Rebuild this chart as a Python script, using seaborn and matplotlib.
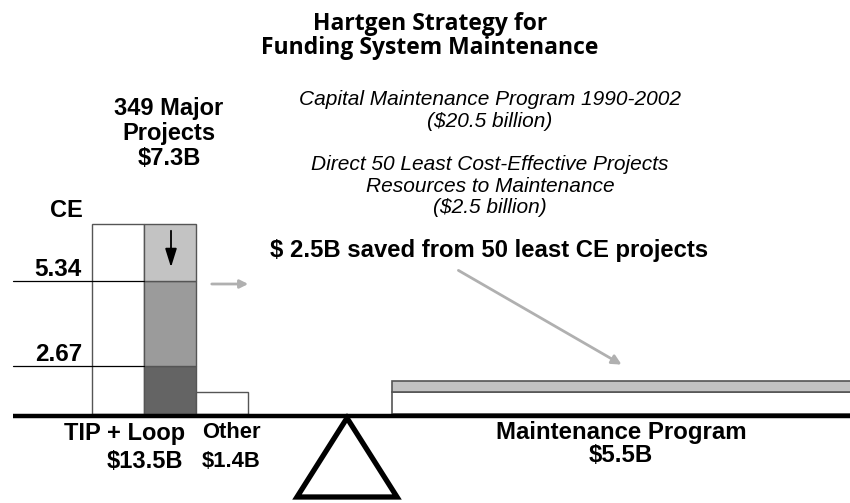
import numpy as np
import matplotlib
matplotlib.use("Agg")
import matplotlib.pyplot as plt
from matplotlib.patches import Polygon
import seaborn as sns

# ------------------------------------------------------------
# data (bar heights are drawing units above the balance beam)
# ------------------------------------------------------------
title_lines = ["Hartgen Strategy for", "Funding System Maintenance"]
bar_names = ["TIP + Loop", "Other", "Maintenance Program"]
bar_totals = ["$13.5B", "$1.4B", "$5.5B"]

tip_height = 190                 # TIP + Loop outline bar
other_height = 22                # Other projects
maint_heights = [22, 11]         # maintenance program, + redirected $2.5B
major_segments = [48, 85, 57]    # 349 major projects split by CE band (low -> high)
ce_labels = ["2.67", "5.34"]     # CE thresholds between the bands

major_label = ["349 Major", "Projects", "$7.3B"]
note_lines = ["Capital Maintenance Program 1990-2002", "($20.5 billion)",
              "Direct 50 Least Cost-Effective Projects", "Resources to Maintenance",
              "($2.5 billion)"]
saved_label = "$ 2.5B saved from 50 least CE projects"

# ------------------------------------------------------------
# layout (pixel-like units, ground line at y = 0)
# ------------------------------------------------------------
W, H, GROUND = 850, 503, 414
def py(p):
    # convert a pixel row to axis units
    return GROUND - p

sns.set_theme(style="white")
plt.rcParams["font.family"] = ["Liberation Sans", "DejaVu Sans"]
plt.rcParams["text.color"] = "black"

fig = plt.figure(figsize=(8.5, 5.03), dpi=100)
ax = fig.add_axes([0, 0, 1, 1])
ax.set_xlim(0, W)
ax.set_ylim(GROUND - H, GROUND)
ax.axis("off")

edge = "#555555"
seg_colors = ["#646464", "#9b9b9b", "#c3c3c3"]

# TIP + Loop outline bar
ax.bar(92, tip_height, width=52, align="edge", color="white", edgecolor=edge, lw=1, zorder=2)

# 349 major projects, stacked by CE band
bottoms = np.concatenate([[0], np.cumsum(major_segments)[:-1]])
ax.bar([144] * 3, major_segments, bottom=bottoms, width=52, align="edge",
       color=seg_colors, edgecolor=edge, lw=1, zorder=2)

# Other
ax.bar(196, other_height, width=52, align="edge", color="white", edgecolor=edge, lw=1, zorder=2)

# Maintenance program + redirected money
ax.bar(392, maint_heights[0], width=470, align="edge", color="white", edgecolor=edge, lw=1.2, zorder=2)
ax.bar(392, maint_heights[1], bottom=maint_heights[0], width=470, align="edge",
       color="#c3c3c3", edgecolor=edge, lw=1.2, zorder=2)

# CE threshold lines and labels
cuts = np.cumsum(major_segments)[:-1]
for lab, yv in zip(ce_labels, cuts):
    ax.plot([13, 144], [yv, yv], color="black", lw=0.9, zorder=3)
    ax.text(82, yv + 5, lab, ha="right", va="baseline", fontsize=17.5, fontweight="bold")
ax.text(66, py(217), "CE", ha="center", va="baseline", fontsize=17, fontweight="bold")

# balance beam and fulcrum
ax.plot([13, 850], [-1.5, -1.5], color="black", lw=3.2, solid_capstyle="butt", zorder=4)
tri = Polygon([[347, py(418)], [297, py(497)], [397, py(497)]], closed=True,
              fill=False, edgecolor="black", lw=3.8, joinstyle="miter", zorder=4)
ax.add_patch(tri)

# arrows
ax.annotate("", xy=(171, py(270)), xytext=(171, py(228)),
            arrowprops=dict(arrowstyle="-|>,head_width=0.25,head_length=0.8",
                            color="black", lw=1.3, mutation_scale=14), zorder=5)
ax.annotate("", xy=(251, py(284)), xytext=(209, py(284)),
            arrowprops=dict(arrowstyle="-|>", color="#b0b0b0", lw=2, mutation_scale=12))
ax.annotate("", xy=(624, py(366)), xytext=(456, py(269)),
            arrowprops=dict(arrowstyle="-|>", color="#b0b0b0", lw=2, mutation_scale=14))

# title
for line, base in zip(title_lines, [30, 54]):
    ax.text(430, py(base), line, ha="center", va="baseline", fontsize=16.5,
            fontweight="bold", family=["Open Sans", "DejaVu Sans"])

# major projects label
for line, base in zip(major_label, [115, 140, 165]):
    ax.text(169, py(base), line, ha="center", va="baseline", fontsize=17, fontweight="bold")

# italic notes
for line, base in zip(note_lines, [105, 127, 170, 192, 213]):
    ax.text(490, py(base), line, ha="center", va="baseline", fontsize=15, style="italic")

ax.text(489, py(257), saved_label, ha="center", va="baseline", fontsize=17.2, fontweight="bold")

# bar labels under the beam
ax.text(185, py(440), bar_names[0], ha="right", va="baseline", fontsize=17, fontweight="bold")
ax.text(183, py(468), bar_totals[0], ha="right", va="baseline", fontsize=17, fontweight="bold")
ax.text(202, py(438), bar_names[1], ha="left", va="baseline", fontsize=15.8, fontweight="bold")
ax.text(202, py(467), bar_totals[1], ha="left", va="baseline", fontsize=15.8, fontweight="bold")
ax.text(621, py(439), bar_names[2], ha="center", va="baseline", fontsize=17.3, fontweight="bold")
ax.text(621, py(462), bar_totals[2], ha="center", va="baseline", fontsize=17.3, fontweight="bold")

plt.savefig("out.png", dpi=100, facecolor="white")
